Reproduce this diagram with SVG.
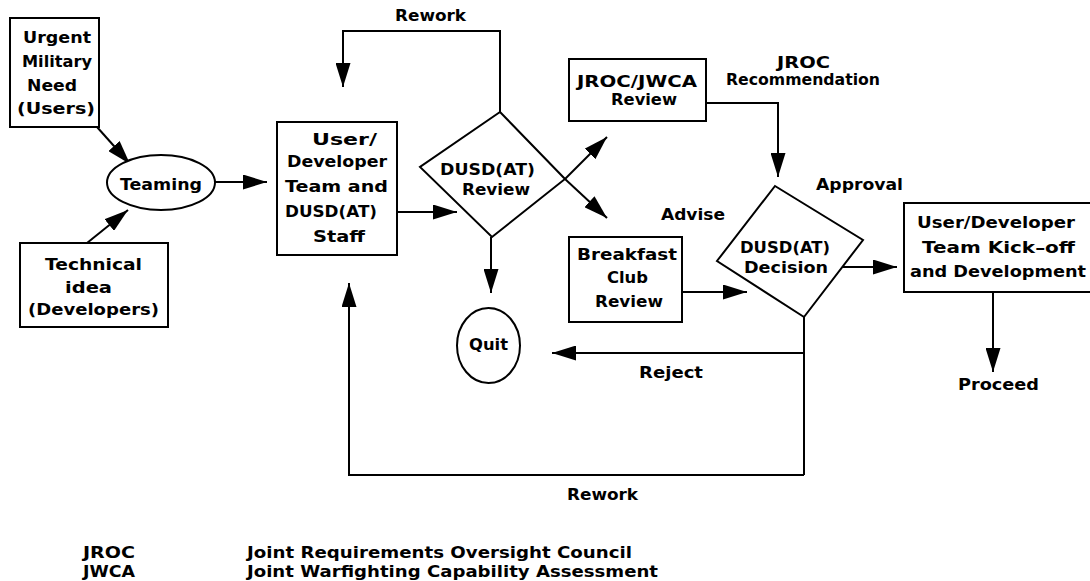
<svg xmlns="http://www.w3.org/2000/svg" width="1090" height="581" viewBox="0 0 1090 581">
<defs>
<marker id="ah" markerUnits="userSpaceOnUse" markerWidth="24" markerHeight="15" refX="24" refY="7.5" orient="auto">
<path d="M0,0 L24,7.5 L0,15 z" fill="#000"/>
</marker>
<style>
.s{fill:#fff;stroke:#000;stroke-width:2}
.c{fill:none;stroke:#000;stroke-width:2;marker-end:url(#ah)}
.l{fill:none;stroke:#000;stroke-width:2}
text{font-family:"DejaVu Sans","Liberation Sans",sans-serif;font-size:16px;font-weight:bold;fill:#000}
</style>
</defs>
<rect width="1090" height="581" fill="#fff"/>

<g id="connectors">
<path class="c" d="M97,127 L130,164"/>
<path class="c" d="M87,243 L128,210"/>
<path class="c" d="M215,182 L267,182"/>
<path class="c" d="M397,212 L457,212"/>
<path class="c" d="M500,112 L500,31 L343,31 L343,87"/>
<path class="c" d="M565,179 L607,137"/>
<path class="c" d="M565,179 L607,218"/>
<path class="c" d="M491,237 L491,293"/>
<path class="c" d="M706,103 L778,103 L778,177"/>
<path class="c" d="M682,292 L747,292"/>
<path class="c" d="M843,267 L897,267"/>
<path class="c" d="M993,292 L993,372"/>
<path class="l" d="M804,317 L804,475"/>
<path class="c" d="M804,353 L552,353"/>
<path class="c" d="M804,475 L349,475 L349,283"/>
<text x="395" y="21" textLength="71" lengthAdjust="spacingAndGlyphs">Rework</text>
<text x="777" y="68" textLength="53" lengthAdjust="spacingAndGlyphs">JROC</text>
<text x="726" y="85" textLength="154" lengthAdjust="spacingAndGlyphs">Recommendation</text>
<text x="816" y="190" textLength="87" lengthAdjust="spacingAndGlyphs">Approval</text>
<text x="661" y="220" textLength="64" lengthAdjust="spacingAndGlyphs">Advise</text>
<text x="639" y="378" textLength="64" lengthAdjust="spacingAndGlyphs">Reject</text>
<text x="567" y="500" textLength="71" lengthAdjust="spacingAndGlyphs">Rework</text>
<text x="958" y="390" textLength="81" lengthAdjust="spacingAndGlyphs">Proceed</text>
</g>

<g id="urgent">
<rect class="s" x="10" y="18" width="89" height="109"/>
<text x="23" y="43" textLength="68" lengthAdjust="spacingAndGlyphs">Urgent</text>
<text x="22" y="67" textLength="70" lengthAdjust="spacingAndGlyphs">Military</text>
<text x="27" y="91" textLength="50" lengthAdjust="spacingAndGlyphs">Need</text>
<text x="17" y="114" textLength="78" lengthAdjust="spacingAndGlyphs">(Users)</text>
</g>

<g id="teaming">
<ellipse class="s" cx="161" cy="182.5" rx="54" ry="27.5"/>
<text x="120" y="190" textLength="82" lengthAdjust="spacingAndGlyphs">Teaming</text>
</g>

<g id="technical">
<rect class="s" x="20" y="243" width="148" height="84"/>
<text x="45" y="270" textLength="97" lengthAdjust="spacingAndGlyphs">Technical</text>
<text x="65" y="293" textLength="47" lengthAdjust="spacingAndGlyphs">idea</text>
<text x="28" y="315" textLength="131" lengthAdjust="spacingAndGlyphs">(Developers)</text>
</g>

<g id="team">
<rect class="s" x="277" y="122" width="120" height="133"/>
<text x="312" y="145" textLength="65" lengthAdjust="spacingAndGlyphs">User/</text>
<text x="287" y="167" textLength="100" lengthAdjust="spacingAndGlyphs">Developer</text>
<text x="285" y="192" textLength="103" lengthAdjust="spacingAndGlyphs">Team and</text>
<text x="285" y="217" textLength="92" lengthAdjust="spacingAndGlyphs">DUSD(AT)</text>
<text x="313" y="242" textLength="52" lengthAdjust="spacingAndGlyphs">Staff</text>
</g>

<g id="review">
<path class="s" d="M500,112 L565,179 L492,237 L420,167 z"/>
<text x="440" y="175" textLength="95" lengthAdjust="spacingAndGlyphs">DUSD(AT)</text>
<text x="462" y="195" textLength="68" lengthAdjust="spacingAndGlyphs">Review</text>
</g>

<g id="quit">
<ellipse class="s" cx="488.5" cy="345.5" rx="31.5" ry="37.5"/>
<text x="469" y="350" textLength="39" lengthAdjust="spacingAndGlyphs">Quit</text>
</g>

<g id="jroc">
<rect class="s" x="569" y="59" width="137" height="62"/>
<text x="577" y="87" textLength="120" lengthAdjust="spacingAndGlyphs">JROC/JWCA</text>
<text x="611" y="105" textLength="66" lengthAdjust="spacingAndGlyphs">Review</text>
</g>

<g id="breakfast">
<rect class="s" x="569" y="237" width="113" height="85"/>
<text x="577" y="260" textLength="100" lengthAdjust="spacingAndGlyphs">Breakfast</text>
<text x="607" y="283" textLength="41" lengthAdjust="spacingAndGlyphs">Club</text>
<text x="595" y="307" textLength="68" lengthAdjust="spacingAndGlyphs">Review</text>
</g>

<g id="decision">
<path class="s" d="M775,186 L863,240 L804,317 L717,261 z"/>
<text x="740" y="253" textLength="90" lengthAdjust="spacingAndGlyphs">DUSD(AT)</text>
<text x="744" y="273" textLength="84" lengthAdjust="spacingAndGlyphs">Decision</text>
</g>

<g id="kickoff">
<rect class="s" x="904" y="203" width="195" height="89"/>
<text x="917" y="228" textLength="158" lengthAdjust="spacingAndGlyphs">User/Developer</text>
<text x="922" y="253" textLength="153" lengthAdjust="spacingAndGlyphs">Team Kick–off</text>
<text x="910" y="277" textLength="176" lengthAdjust="spacingAndGlyphs">and Development</text>
</g>

<g id="legend">
<text x="83" y="558" textLength="52" lengthAdjust="spacingAndGlyphs">JROC</text>
<text x="83" y="577" textLength="52" lengthAdjust="spacingAndGlyphs">JWCA</text>
<text x="247" y="558" textLength="385" lengthAdjust="spacingAndGlyphs">Joint Requirements Oversight Council</text>
<text x="247" y="577" textLength="411" lengthAdjust="spacingAndGlyphs">Joint Warfighting Capability Assessment</text>
</g>
</svg>
